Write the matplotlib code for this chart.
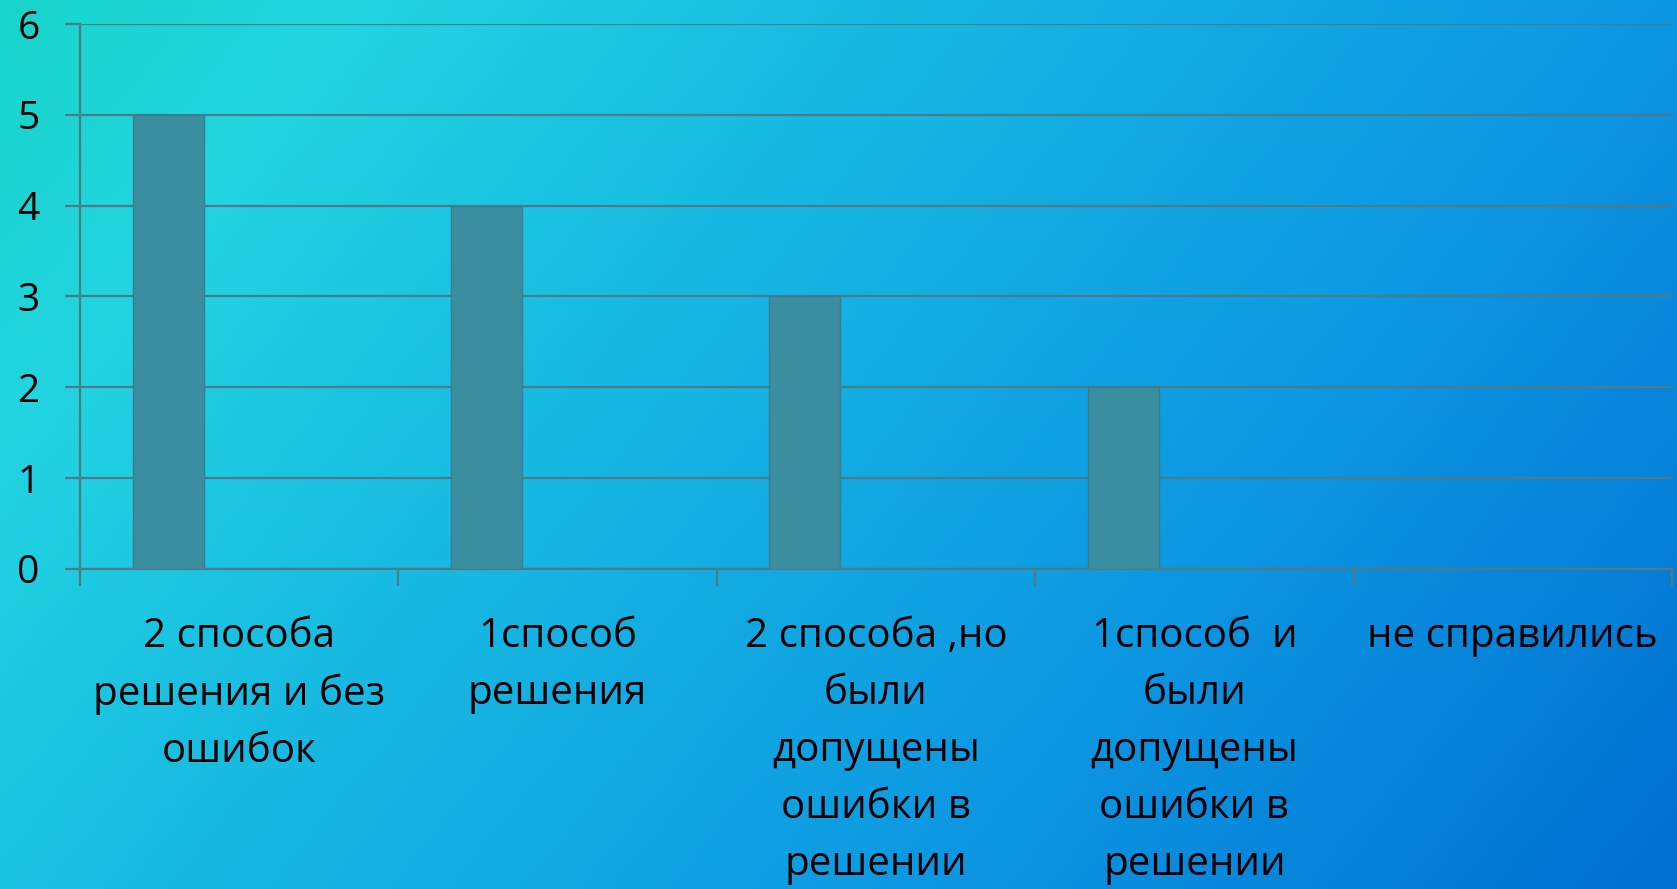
#!/usr/bin/env python3
"""
Bar chart of how pupils solved the task, on a gradient slide background
"""

import matplotlib
matplotlib.use("Agg")
import matplotlib.pyplot as plt
import numpy as np
from matplotlib.colors import LinearSegmentedColormap

plt.rcParams['font.family'] = ['Open Sans', 'DejaVu Sans']

categories = [
    "2 способа\nрешения и без\nошибок",
    "1способ\nрешения",
    "2 способа ,но\nбыли\nдопущены\nошибки в\nрешении",
    "1способ  и\nбыли\nдопущены\nошибки в\nрешении",
    "не справились",
]
counts = [5, 4, 3, 2, 0]
y_ticks = [0, 1, 2, 3, 4, 5, 6]

BAR_COLOR = '#3A8E9F'
GRID_COLOR = '#4F7A86'


def draw_background(fig):
    """Diagonal cyan-to-blue gradient over the whole figure"""
    cmap = LinearSegmentedColormap.from_list('slide', [
        (0.00, '#18D4CA'),
        (0.15, '#22D4E0'),
        (0.35, '#18BCE2'),
        (0.70, '#0C96E2'),
        (1.00, '#0070D2'),
    ])
    h, w = 200, 400
    xx, yy = np.meshgrid(np.linspace(0, 1, w), np.linspace(0, 1, h))
    t = 0.7 * xx + 0.3 * yy
    bg = fig.add_axes([0, 0, 1, 1], zorder=-10)
    bg.imshow(t, cmap=cmap, aspect='auto', extent=[0, 1, 0, 1],
              origin='upper', vmin=0, vmax=1)
    bg.set_axis_off()


def main():
    fig = plt.figure(figsize=(16.77, 8.89), dpi=100)
    draw_background(fig)

    ax = fig.add_axes([0.0477, 0.360, 0.9493, 0.613])
    ax.patch.set_alpha(0)

    x = np.arange(len(categories))
    width = 0.223
    ax.bar(x - width, counts, width, color=BAR_COLOR, edgecolor='#367F90',
           linewidth=1, zorder=3)

    ax.set_xlim(-0.5, len(categories) - 0.5)
    ax.set_ylim(0, 6)
    ax.set_yticks(y_ticks)
    ax.yaxis.grid(True, color=GRID_COLOR, linewidth=1.6, zorder=1)
    ax.tick_params(axis='y', length=11, width=1.6, color=GRID_COLOR,
                   pad=18, labelsize=28, labelcolor='black')

    # boundary ticks between categories, labels at category centres
    ax.set_xticks(np.arange(len(categories) + 1) - 0.5)
    ax.set_xticklabels([])
    ax.set_xticks(x, minor=True)
    ax.set_xticklabels(categories, minor=True, fontsize=29, linespacing=1.54)
    ax.tick_params(axis='x', which='major', length=12, width=1.6, color=GRID_COLOR)
    ax.tick_params(axis='x', which='minor', length=0, pad=34, labelcolor='black')

    for side in ('top', 'right'):
        ax.spines[side].set_visible(False)
    ax.spines['left'].set_color(GRID_COLOR)
    ax.spines['left'].set_linewidth(1.6)
    ax.spines['bottom'].set_color(GRID_COLOR)
    ax.spines['bottom'].set_linewidth(1.6)
    ax.set_axisbelow(True)

    fig.savefig('out.png', dpi=100)
    plt.close(fig)


if __name__ == "__main__":
    main()
